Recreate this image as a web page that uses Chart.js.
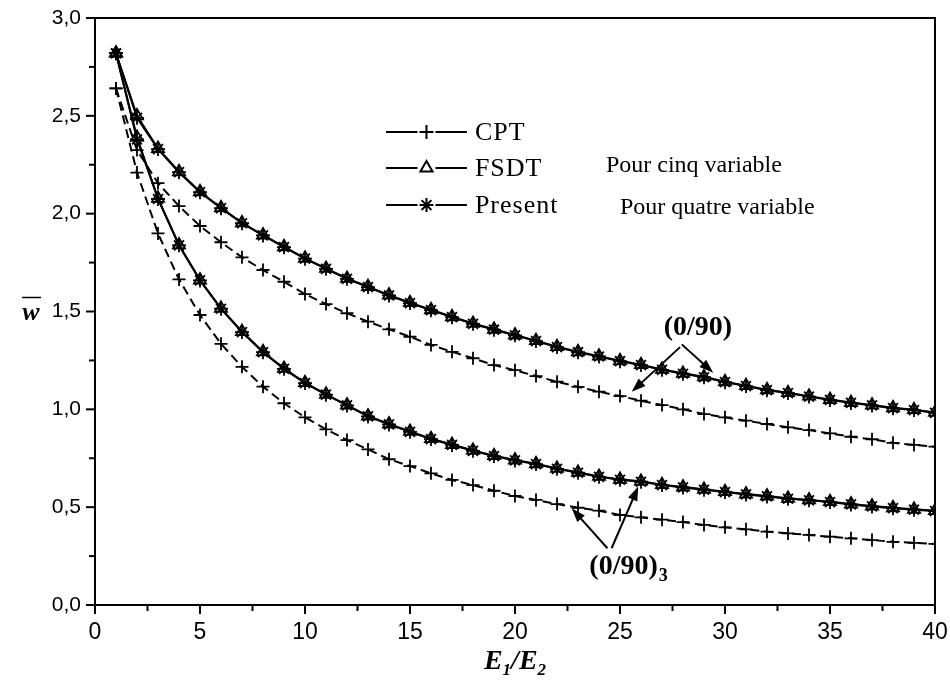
<!DOCTYPE html>
<html>
<head>
<meta charset="utf-8">
<script src="https://cdn.jsdelivr.net/npm/chart.js@4.4.0/dist/chart.umd.min.js"></script>
<style>
html, body { margin: 0; padding: 0; background: #fff; }
</style>
</head>
<body>
<canvas id="myChart" width="950" height="684"></canvas>
<script>
// E1/E2
let ratio = [1,2,3,4,5,6,7,8,9,10,11,12,13,14,15,16,17,18,19,20,
             21,22,23,24,25,26,27,28,29,30,31,32,33,34,35,36,37,38,39,40];

// (0/90)
let cpt090 = [2.64,2.325,2.156,2.039,1.937,1.854,1.777,1.712,1.652,1.589,
              1.538,1.491,1.448,1.409,1.371,1.329,1.294,1.261,1.226,1.200,
              1.170,1.141,1.115,1.090,1.068,1.044,1.022,1.000,0.976,0.959,
              0.942,0.925,0.908,0.894,0.877,0.860,0.847,0.829,0.818,0.809];
let fsdt090 = [2.82,2.50,2.333,2.214,2.112,2.030,1.953,1.891,1.831,1.772,
               1.720,1.669,1.627,1.584,1.545,1.509,1.473,1.439,1.409,1.380,
               1.351,1.320,1.294,1.272,1.248,1.228,1.204,1.184,1.166,1.141,
               1.121,1.100,1.085,1.067,1.050,1.035,1.022,1.008,0.998,0.984];
let present090 = [2.82,2.49,2.330,2.212,2.110,2.028,1.951,1.889,1.829,1.770,
                  1.718,1.667,1.625,1.582,1.543,1.507,1.471,1.437,1.407,1.378,
                  1.349,1.318,1.292,1.270,1.246,1.226,1.202,1.182,1.164,1.139,
                  1.119,1.098,1.083,1.065,1.048,1.033,1.020,1.006,0.996,0.982];

// (0/90)3
let cpt0903 = [2.64,2.21,1.899,1.664,1.482,1.335,1.217,1.116,1.031,0.959,
               0.898,0.843,0.795,0.745,0.710,0.673,0.639,0.613,0.584,0.557,
               0.537,0.516,0.497,0.482,0.460,0.448,0.436,0.424,0.409,0.397,
               0.387,0.375,0.366,0.358,0.349,0.341,0.332,0.323,0.318,0.312];
let fsdt0903 = [2.82,2.39,2.078,1.840,1.661,1.516,1.397,1.294,1.209,1.136,
                1.077,1.022,0.966,0.925,0.887,0.850,0.820,0.790,0.763,0.741,
                0.722,0.698,0.678,0.657,0.642,0.632,0.615,0.603,0.591,0.579,
                0.567,0.557,0.545,0.537,0.528,0.516,0.506,0.497,0.489,0.482];
let present0903 = [2.82,2.38,2.075,1.838,1.659,1.514,1.395,1.292,1.207,1.134,
                   1.075,1.020,0.964,0.923,0.885,0.848,0.818,0.788,0.761,0.739,
                   0.720,0.696,0.676,0.655,0.640,0.630,0.613,0.601,0.589,0.577,
                   0.565,0.555,0.543,0.535,0.526,0.514,0.504,0.495,0.487,0.480];

let legendNames = ['CPT', 'FSDT', 'Present'];
let noteTop = '(0/90)';
let noteBottom = '(0/90)';
let sideNotes = ['Pour cinq variable', 'Pour quatre variable'];

function pts(vals)
{
    return ratio.map(function(r, i) { return {x: r, y: vals[i]}; });
}

function serie(label, vals, kind)
{
    let s = {
        label: label,
        data: pts(vals),
        borderColor: '#000',
        backgroundColor: 'rgba(0,0,0,0)',
        borderWidth: 2,
        pointBorderColor: '#000',
        pointBackgroundColor: 'rgba(0,0,0,0)',
        pointBorderWidth: 1.8,
        pointRadius: 7,
        tension: 0,
        fill: false
    };
    if (kind == 'CPT') { s.pointStyle = 'cross'; s.borderDash = [9, 5]; s.pointRadius = 6.5; }
    if (kind == 'FSDT') { s.pointStyle = 'triangle'; }
    if (kind == 'Present') { s.pointStyle = 'star'; }
    return s;
}

let data =
{
    datasets:
    [
        serie('CPT (0/90)', cpt090, 'CPT'),
        serie('FSDT (0/90)', fsdt090, 'FSDT'),
        serie('Present (0/90)', present090, 'Present'),
        serie('CPT (0/90)3', cpt0903, 'CPT'),
        serie('FSDT (0/90)3', fsdt0903, 'FSDT'),
        serie('Present (0/90)3', present0903, 'Present')
    ]
};

function arrow(ctx, x0, y0, x1, y1)
{
    let a = Math.atan2(y1 - y0, x1 - x0);
    let L = 14, W = 5;
    ctx.beginPath();
    ctx.moveTo(x0, y0);
    ctx.lineTo(x1 - Math.cos(a) * L * 0.8, y1 - Math.sin(a) * L * 0.8);
    ctx.stroke();
    ctx.beginPath();
    ctx.moveTo(x1, y1);
    ctx.lineTo(x1 - Math.cos(a) * L - Math.sin(a) * W, y1 - Math.sin(a) * L + Math.cos(a) * W);
    ctx.lineTo(x1 - Math.cos(a) * L + Math.sin(a) * W, y1 - Math.sin(a) * L - Math.cos(a) * W);
    ctx.closePath();
    ctx.fill();
}

let decor =
{
    id: 'decor',
    afterDraw: function(chart)
    {
        let ctx = chart.ctx;
        let a = chart.chartArea;
        let xs = chart.scales.x, ys = chart.scales.y;
        ctx.save();
        ctx.strokeStyle = '#000';
        ctx.fillStyle = '#000';

        // frame
        ctx.lineWidth = 2;
        ctx.strokeRect(a.left, a.top, a.right - a.left, a.bottom - a.top);

        // ticks (major / minor)
        ctx.lineWidth = 2;
        xs.ticks.forEach(function(t)
        {
            let p = xs.getPixelForValue(t.value);
            let major = Math.abs(t.value / 5 - Math.round(t.value / 5)) < 1e-6;
            ctx.beginPath();
            ctx.moveTo(p, a.bottom);
            ctx.lineTo(p, a.bottom + (major ? 9 : 6));
            ctx.stroke();
        });
        ys.ticks.forEach(function(t)
        {
            let p = ys.getPixelForValue(t.value);
            let major = Math.abs(t.value * 2 - Math.round(t.value * 2)) < 1e-6;
            ctx.beginPath();
            ctx.moveTo(a.left, p);
            ctx.lineTo(a.left - (major ? 9 : 6), p);
            ctx.stroke();
        });

        // x title E1/E2
        let cx = (a.left + a.right) / 2;
        let ty = a.bottom + 64;
        ctx.textBaseline = 'alphabetic';
        let big = 'italic bold 28px "Liberation Serif"';
        let sub = 'italic bold 17px "Liberation Serif"';
        ctx.font = big; let wE = ctx.measureText('E').width; let wS = ctx.measureText('/').width;
        ctx.font = sub; let w1 = ctx.measureText('1').width; let w2 = ctx.measureText('2').width;
        let x0 = cx - (wE * 2 + wS + w1 + w2) / 2;
        ctx.textAlign = 'left';
        ctx.font = big; ctx.fillText('E', x0, ty); x0 += wE;
        ctx.font = sub; ctx.fillText('1', x0, ty + 6); x0 += w1;
        ctx.font = big; ctx.fillText('/', x0, ty); x0 += wS;
        ctx.fillText('E', x0, ty); x0 += wE;
        ctx.font = sub; ctx.fillText('2', x0, ty + 6);

        // y title w with bar
        let wy = (a.top + a.bottom) / 2 + 8;
        ctx.font = 'italic bold 26px "Liberation Serif"';
        ctx.textAlign = 'center';
        ctx.fillText('w', 31, wy);
        ctx.lineWidth = 1.5;
        ctx.beginPath(); ctx.moveTo(22, wy - 22); ctx.lineTo(41, wy - 22); ctx.stroke();

        // legend
        let styles = ['cross', 'triangle', 'star'];
        let rows = [2.417, 2.233, 2.044];
        let lx0 = xs.getPixelForValue(13.86), lx1 = xs.getPixelForValue(17.71);
        let lm = (lx0 + lx1) / 2;
        ctx.font = '26px "Liberation Serif"';
        ctx.textAlign = 'left';
        ctx.textBaseline = 'middle';
        ctx.letterSpacing = '1px';
        for (let i = 0; i < 3; i++)
        {
            let py = ys.getPixelForValue(rows[i]);
            ctx.lineWidth = 2;
            ctx.beginPath();
            ctx.moveTo(lx0, py); ctx.lineTo(lm - 9, py);
            ctx.moveTo(lm + 9, py); ctx.lineTo(lx1, py);
            ctx.stroke();
            ctx.fillStyle = '#fff';
            Chart.helpers.drawPoint(ctx, {pointStyle: styles[i], radius: 7, borderWidth: 1.8}, lm, py);
            ctx.fillStyle = '#000';
            ctx.fillText(legendNames[i], lx1 + 8, py + 1);
        }
        ctx.letterSpacing = '0px';

        // side notes
        ctx.font = '24px "Liberation Serif"';
        ctx.textBaseline = 'alphabetic';
        ctx.fillText(sideNotes[0], xs.getPixelForValue(24.33), ys.getPixelForValue(2.215));
        ctx.fillText(sideNotes[1], xs.getPixelForValue(25.0), ys.getPixelForValue(2.0));

        // (0/90) note
        ctx.font = 'bold 28px "Liberation Serif"';
        ctx.textAlign = 'center';
        ctx.textBaseline = 'middle';
        ctx.fillText(noteTop, xs.getPixelForValue(28.71), ys.getPixelForValue(1.415));
        ctx.lineWidth = 2;
        arrow(ctx, xs.getPixelForValue(27.86), ys.getPixelForValue(1.318), xs.getPixelForValue(25.56), ys.getPixelForValue(1.090));
        arrow(ctx, xs.getPixelForValue(27.94), ys.getPixelForValue(1.332), xs.getPixelForValue(29.44), ys.getPixelForValue(1.187));

        // (0/90)3 note
        ctx.textAlign = 'left';
        let bx = xs.getPixelForValue(23.54), by = ys.getPixelForValue(0.196);
        ctx.fillText(noteBottom, bx, by);
        let bw = ctx.measureText(noteBottom).width;
        ctx.font = 'bold 18px "Liberation Serif"';
        ctx.fillText('3', bx + bw + 1, by + 10);
        arrow(ctx, xs.getPixelForValue(24.40), ys.getPixelForValue(0.290), xs.getPixelForValue(22.70), ys.getPixelForValue(0.494));
        arrow(ctx, xs.getPixelForValue(24.60), ys.getPixelForValue(0.290), xs.getPixelForValue(25.87), ys.getPixelForValue(0.605));

        ctx.restore();
    }
};

let ctx = document.getElementById('myChart').getContext('2d');

let myChart = new Chart(ctx,
{
    type: 'line',
    data: data,
    plugins: [decor],
    options:
    {
        responsive: false,
        animation: false,
        devicePixelRatio: 1,
        layout: { padding: { top: 18, right: 15, left: 0, bottom: 0 } },
        plugins:
        {
            legend: { display: false },
            tooltip: { enabled: false }
        },
        scales:
        {
            x:
            {
                type: 'linear',
                min: 0,
                max: 40,
                border: { display: true, color: '#000', width: 2 },
                grid: { drawOnChartArea: false, drawTicks: true, tickLength: 9, tickColor: 'rgba(0,0,0,0)' },
                ticks:
                {
                    stepSize: 2.5,
                    autoSkip: false,
                    maxRotation: 0,
                    color: '#000',
                    padding: 5,
                    font: { family: '"Liberation Sans Narrow", "Liberation Sans", Arial', size: 23 },
                    callback: function(v) { return Math.abs(v / 5 - Math.round(v / 5)) < 1e-6 ? String(v) : ''; }
                },
                afterFit: function(s) { s.height = 79; s.paddingLeft = 0; s.paddingRight = 0; }
            },
            y:
            {
                min: 0,
                max: 3,
                border: { display: true, color: '#000', width: 2 },
                grid: { drawOnChartArea: false, drawTicks: true, tickLength: 9, tickColor: 'rgba(0,0,0,0)' },
                ticks:
                {
                    stepSize: 0.25,
                    autoSkip: false,
                    color: '#000',
                    padding: 5,
                    font: { family: '"Liberation Sans", Arial', size: 21 },
                    callback: function(v) { return Math.abs(v * 2 - Math.round(v * 2)) < 1e-6 ? v.toFixed(1).replace('.', ',') : ''; }
                },
                afterFit: function(s) { s.width = 95; s.paddingTop = 0; s.paddingBottom = 0; }
            }
        }
    }
});
</script>
</body>
</html>
